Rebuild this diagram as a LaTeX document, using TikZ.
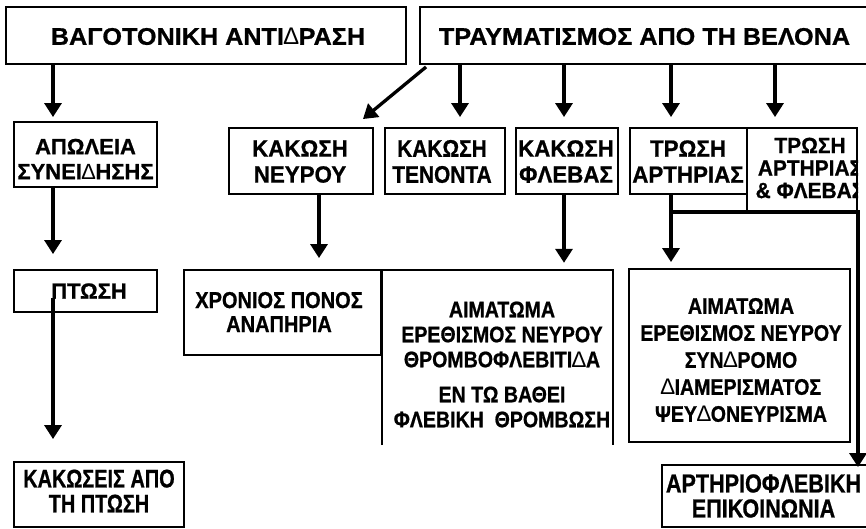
\documentclass[tikz,border=0pt]{standalone}
\usepackage{fontspec}
\setmainfont{Liberation Sans}
\newfontfamily\fT{Liberation Sans Bold}[FakeStretch=1.05, FakeBold=0.8]
\newfontfamily\fN{Liberation Sans Bold}[FakeBold=0.8]
\newfontfamily\fA{Liberation Sans Bold}[FakeStretch=0.95, FakeBold=0.8]
\newfontfamily\fC{Liberation Sans Bold}[FakeStretch=0.87, FakeBold=0.8]
\newfontfamily\fB{Liberation Sans Bold}[FakeStretch=0.83, FakeBold=0.8]
\newfontfamily\fE{Liberation Sans Bold}[FakeStretch=0.78, FakeBold=0.8]
\newfontfamily\fD{Liberation Sans}
\newcommand{\Dl}{{\fD\char"2206}}
\usetikzlibrary{arrows.meta,calc}
\begin{document}
\begin{tikzpicture}[x=1pt,y=-1pt,
  box/.style={draw, line width=1.9pt, inner sep=0pt},
  arr/.style={line width=3.3pt, -{Triangle[width=17pt,length=14pt]}},
  lbl/.style={inner sep=0pt, align=center},
  ttl/.style={lbl, font=\fT\fontsize{24}{28}\selectfont},
]
\useasboundingbox (0,0) rectangle (866,528);
\fill[white] (0,0) rectangle (866,528);
\begin{scope}
\clip (0,0) rectangle (866,528);

% top boxes
\node[box, minimum width=400pt, minimum height=57pt] (vag) at (206,35.5) {};
\node[ttl] (vagt) at (208,36.5) {ΒΑΓΟΤΟΝΙΚΗ ΑΝΤΙ\Dl ΡΑΣΗ};
\node[box, minimum width=449pt, minimum height=57pt] (trauma) at (644.5,35.5) {};
\node[ttl] (traumat) at (644.5,36.5) {ΤΡΑΥΜΑΤΙΣΜΟΣ ΑΠΟ ΤΗ ΒΕΛΟΝΑ};

% left column
\node[box, minimum width=143pt, minimum height=65pt] (apol) at (85.5,154.5) {};
\node[lbl, font=\fN\fontsize{22}{25}\selectfont] (apolt) at (85.5,159) {ΑΠΩΛΕΙΑ\\ΣΥΝΕΙ\Dl ΗΣΗΣ};
\node[box, minimum width=143pt, minimum height=42pt] (ptosi) at (85.5,291) {};
\node[lbl, font=\fN\fontsize{22}{25}\selectfont] (ptosit) at (89,291) {ΠΤΩΣΗ};
\node[box, minimum width=170pt, minimum height=65pt] (kak) at (99,494.5) {};
\node[lbl, font=\fE\fontsize{25.5}{25}\selectfont] (kakt) at (99,491) {ΚΑΚΩΣΕΙΣ ΑΠΟ\\ΤΗ ΠΤΩΣΗ};

% second row
\node[box, minimum width=144pt, minimum height=66pt] (neur) at (301,161) {};
\node[lbl, font=\fA\fontsize{23.5}{26}\selectfont] (neurt) at (300,161.5) {ΚΑΚΩΣΗ\\ΝΕΥΡΟΥ};
\node[box, minimum width=120pt, minimum height=66pt] (ten) at (445,161) {};
\node[lbl, font=\fC\fontsize{24}{26}\selectfont] (tent) at (442,161.5) {ΚΑΚΩΣΗ\\ΤΕΝΟΝΤΑ};
\node[box, minimum width=102pt, minimum height=66pt] (flev) at (567,161) {};
\node[lbl, font=\fA\fontsize{23.5}{26}\selectfont] (flevt) at (566,161.5) {ΚΑΚΩΣΗ\\ΦΛΕΒΑΣ};
\node[box, minimum width=117pt, minimum height=66pt] (art) at (688.5,161) {};
\node[lbl, font=\fA\fontsize{23.5}{26}\selectfont] (artt) at (688,161.5) {ΤΡΩΣΗ\\ΑΡΤΗΡΙΑΣ};
\node[box, minimum width=110pt, minimum height=83pt] (artfl) at (802,169.5) {};
\begin{scope}
\clip (740,120) rectangle (858,215);
\node[lbl, font=\fA\fontsize{22}{22.5}\selectfont] (artflt) at (810,168) {ΤΡΩΣΗ\\ΑΡΤΗΡΙΑΣ\\\& ΦΛΕΒΑΣ};
\end{scope}

% third row
\node[box, minimum width=197pt, minimum height=85pt] (chron) at (282.5,312.5) {};
\node[lbl, font=\fC\fontsize{23}{24}\selectfont] (chront) at (279,312) {ΧΡΟΝΙΟΣ ΠΟΝΟΣ\\ΑΝΑΠΗΡΙΑ};
\node[inner sep=0pt, minimum width=231pt, minimum height=175pt] (aim1) at (497.5,357.5) {};
\draw[line width=1.9pt] (aim1.south west) -- (aim1.north west) -- (aim1.north east) -- (aim1.south east);
\node[lbl, font=\fC\fontsize{22.5}{25}\selectfont] (aim1t) at (502,364.5)
  {ΑΙΜΑΤΩΜΑ\\ΕΡΕΘΙΣΜΟΣ ΝΕΥΡΟΥ\\ΘΡΟΜΒΟΦΛΕΒΙΤΙ\Dl Α\\[10pt]ΕΝ ΤΩ ΒΑΘΕΙ\\ΦΛΕΒΙΚΗ \ ΘΡΟΜΒΩΣΗ};
\node[box, minimum width=221pt, minimum height=173pt] (aim2) at (739.5,355.5) {};
\node[lbl, font=\fC\fontsize{22.5}{27}\selectfont] (aim2t) at (741,360)
  {ΑΙΜΑΤΩΜΑ\\ΕΡΕΘΙΣΜΟΣ ΝΕΥΡΟΥ\\ΣΥΝ\Dl ΡΟΜΟ\\\Dl ΙΑΜΕΡΙΣΜΑΤΟΣ\\ΨΕΥ\Dl ΟΝΕΥΡΙΣΜΑ};
\node[box, minimum width=207pt, minimum height=62pt] (avf) at (765.5,496) {};
\node[lbl, font=\fB\fontsize{26}{25}\selectfont] (avft) at (763.5,496) {ΑΡΤΗΡΙΟΦΛΕΒΙΚΗ\\ΕΠΙΚΟΙΝΩΝΙΑ};

% x positions of connectors
\coordinate (xl) at (53,0);
\coordinate (x1) at (460,0);
\coordinate (x2) at (564,0);
\coordinate (x3) at (671,0);
\coordinate (x4) at (775,0);
\coordinate (xn) at (319,0);
\coordinate (xr) at (858,0);
\coordinate (pst) at (53,298);

% connectors
\draw[arr, shorten >=4pt] (vag.south -| xl) -- (apol.north -| xl);
\draw[arr, shorten >=15pt] (apol.south -| xl) -- (ptosi.north -| xl);
\draw[arr, shorten >=22pt] (pst) -- (kak.north -| xl);
\draw[arr] ($(trauma.south west)+(7,2)$) -- ($(neur.north east)+(-11,-8)$);
\draw[arr, shorten >=10pt] (trauma.south -| x1) -- (ten.north -| x1);
\draw[arr, shorten >=10pt] (trauma.south -| x2) -- (flev.north -| x2);
\draw[arr, shorten >=10pt] (trauma.south -| x3) -- (art.north -| x3);
\draw[arr, shorten >=10pt] (trauma.south -| x4) -- (artfl.north -| x4);
\draw[arr, shorten >=11pt] (neur.south -| xn) -- (chron.north -| xn);
\draw[arr, shorten >=7pt] (flev.south -| x2) -- (aim1.north -| x2);
\draw[arr, shorten >=6pt] (art.south -| x3) -- (aim2.north -| x3);
\draw[arr, shorten >=-3pt] (art.south -| x3) |- (artfl.south -| xr) -- (avf.north -| xr);
\end{scope}
\end{tikzpicture}
\end{document}
